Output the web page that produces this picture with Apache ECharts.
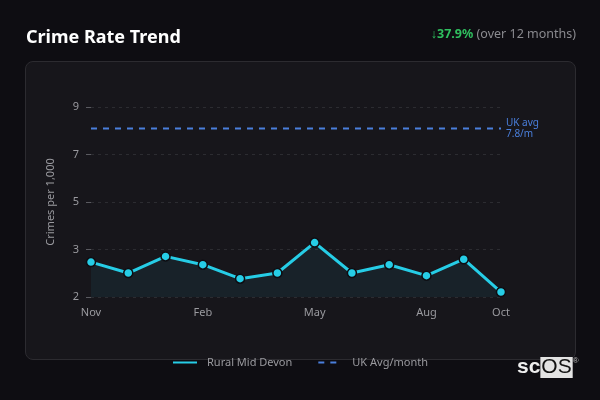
<!DOCTYPE html>
<html lang="en">
<head>
<meta charset="UTF-8">
<title>Crime Rate Trend</title>
<script src="https://cdn.jsdelivr.net/npm/echarts@6/dist/echarts.min.js"></script>
<style>
    html, body { margin: 0; padding: 0; background: #0e0d12; }
    #wrap { position: relative; width: 600px; height: 400px; }
    #card {
        position: absolute; left: 25px; top: 61px; width: 549px; height: 297px;
        background: #17161b; border: 1px solid #2c2b30; border-radius: 8px;
    }
    #main { position: absolute; left: 0; top: 0; width: 600px; height: 400px; }
</style>
</head>
<body>
<div id="wrap">
    <div id="card"></div>
    <div id="main"></div>
</div>
<script type="text/javascript">
    // chart data
    var months = ['Nov', 'Dec', 'Jan', 'Feb', 'Mar', 'Apr', 'May', 'Jun', 'Jul', 'Aug', 'Sep', 'Oct'];
    var devonRate = [2.47, 2.01, 2.71, 2.36, 1.77, 2.01, 3.29, 2.01, 2.36, 1.90, 2.59, 1.21];
    var ukAvgLine = [8.1, 8.1, 8.1, 8.1, 8.1, 8.1, 8.1, 8.1, 8.1, 8.1, 8.1, 8.1];
    var yTickLabels = ['2', '3', '5', '7', '9'];
    var shownMonths = ['Nov', 'Feb', 'May', 'Aug', 'Oct'];

    var myChart = echarts.init(document.getElementById('main'));

    var option = {
        backgroundColor: 'transparent',
        textStyle: { fontFamily: 'Noto Sans' },
        title: {
            text: 'Crime Rate Trend',
            left: 21,
            top: 24,
            textStyle: { color: '#ffffff', fontSize: 18, fontWeight: 'bold', fontFamily: 'Noto Sans' }
        },
        graphic: [
            {
                type: 'text',
                right: 24,
                top: 28,
                style: {
                    text: '{g|↓37.9%} {s|(over 12 months)}',
                    rich: {
                        g: { fill: '#2fbf5f', fontSize: 12.5, fontWeight: 'bold', fontFamily: 'Noto Sans' },
                        s: { fill: '#8a8a8f', fontSize: 12.5, fontFamily: 'Noto Sans' }
                    }
                }
            },
            {
                type: 'text',
                left: 517,
                top: 357,
                style: {
                    text: '{a|sc}{b|OS}{c|®}',
                    rich: {
                        a: { fill: '#eeeeee', fontSize: 21, fontWeight: 'bold', fontFamily: 'Liberation Sans', lineHeight: 21 },
                        b: { fill: '#111111', backgroundColor: '#e3e3e3', fontSize: 21, fontFamily: 'Liberation Sans', lineHeight: 21, padding: [0, 1, 0, 1] },
                        c: { fill: '#bbbbbb', fontSize: 8, verticalAlign: 'top', lineHeight: 21 }
                    }
                }
            }
        ],
        legend: {
            bottom: 27,
            left: 'center',
            itemWidth: 24,
            itemHeight: 10,
            itemGap: 25,
            itemStyle: { opacity: 0 },
            textStyle: { color: '#9a9a9f', fontSize: 11, padding: [0, 0, 0, 5] },
            data: ['Rural Mid Devon', 'UK Avg/month']
        },
        grid: {
            left: 91,
            right: 99,
            top: 107,
            bottom: 103,
            containLabel: false,
            outerBoundsMode: 'none'
        },
        xAxis: {
            type: 'category',
            data: months,
            boundaryGap: false,
            axisLine: { show: false },
            axisTick: { show: false },
            axisLabel: {
                color: '#9a9a9f',
                fontSize: 11,
                margin: 10,
                interval: 0,
                formatter: function (v) {
                    return shownMonths.indexOf(v) >= 0 ? v : '';
                }
            },
            splitLine: { show: false }
        },
        yAxis: {
            type: 'value',
            min: 1,
            max: 9,
            interval: 2,
            name: 'Crimes per 1,000',
            nameLocation: 'middle',
            nameGap: 35,
            nameTextStyle: { color: '#9a9a9f', fontSize: 11 },
            axisLine: { show: false },
            axisTick: { show: true, length: 5, lineStyle: { color: '#5a5a60' } },
            axisLabel: {
                color: '#9a9a9f',
                fontSize: 11,
                margin: 12,
                formatter: function (v, i) {
                    return yTickLabels[i];
                }
            },
            splitLine: { lineStyle: { color: '#2c2c31', type: [3, 4] } }
        },
        series: [
            {
                name: 'Rural Mid Devon',
                type: 'line',
                data: devonRate,
                symbol: 'circle',
                symbolSize: 9,
                lineStyle: { color: '#26cde6', width: 3 },
                itemStyle: { color: '#26cde6', borderColor: '#0e0d12', borderWidth: 1.5 },
                areaStyle: { color: 'rgba(38, 205, 230, 0.1)' },
                z: 3
            },
            {
                name: 'UK Avg/month',
                type: 'line',
                data: ukAvgLine,
                symbol: 'none',
                lineStyle: { color: '#4a7fdc', width: 2, type: [6, 6] },
                itemStyle: { color: '#4a7fdc' },
                endLabel: {
                    show: true,
                    formatter: 'UK avg\n7.8/m',
                    color: '#4a7fdc',
                    fontSize: 10,
                    lineHeight: 11,
                    distance: 5
                },
                z: 2
            }
        ]
    };

    myChart.setOption(option);
</script>
</body>
</html>
